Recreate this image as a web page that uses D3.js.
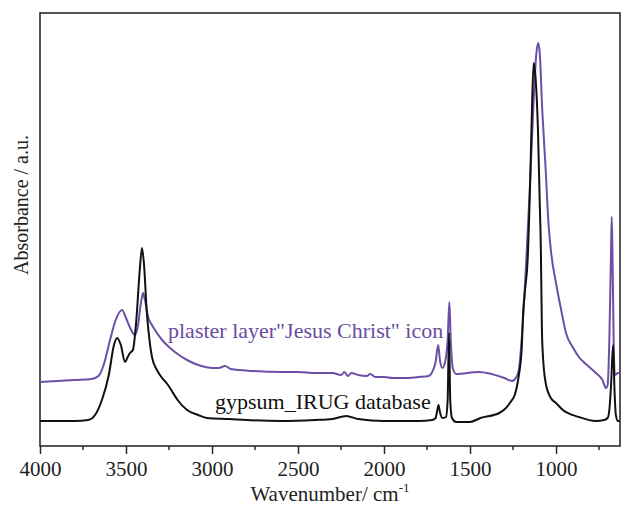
<!DOCTYPE html>
<html>
<head>
<meta charset="utf-8">
<script src="https://cdn.jsdelivr.net/npm/d3@7"></script>
<style>
  body { margin: 0; background: #fff; }
  svg text { font-family: "Liberation Serif", "Times New Roman", serif; }
</style>
</head>
<body>
<div id="chart"></div>
<script>
// wavenumber (cm-1), absorbance (a.u.)
var gypsumWn = [4000, 3800, 3720, 3680, 3640, 3600, 3570, 3552, 3530, 3506, 3490, 3477, 3460, 3440, 3420, 3407,
    3395, 3380, 3360, 3349, 3320, 3290, 3260, 3244, 3230, 3200, 3145, 3080, 3029, 2900, 2800, 2600, 2400, 2300,
    2220, 2150, 2000, 1800, 1720, 1700, 1690, 1683, 1675, 1660, 1640, 1630, 1622, 1615, 1605, 1580, 1500, 1440,
    1330, 1260, 1240, 1216, 1200, 1190, 1180, 1165, 1150, 1140, 1130, 1118, 1105, 1095, 1088, 1082, 1078, 1060,
    1030, 1000, 960, 867, 768, 720, 700, 690, 680, 668, 660, 652, 640, 630];
var gypsumAbs = [0.25, 0.25, 0.26, 0.31, 0.46, 0.71, 1.01, 1.08, 1.01, 0.84, 0.89, 0.93, 0.96, 1.26, 1.76, 1.98,
    1.81, 1.36, 1.01, 0.89, 0.76, 0.68, 0.62, 0.58, 0.54, 0.46, 0.36, 0.31, 0.28, 0.27, 0.26, 0.25, 0.26, 0.27,
    0.30, 0.27, 0.25, 0.25, 0.26, 0.28, 0.36, 0.41, 0.34, 0.28, 0.29, 0.46, 1.13, 0.46, 0.28, 0.24, 0.24, 0.28,
    0.33, 0.45, 0.51, 0.71, 0.96, 1.36, 1.56, 1.86, 2.66, 3.36, 3.83, 3.66, 3.16, 2.46, 1.96, 1.16, 0.96, 0.63,
    0.48, 0.43, 0.36, 0.29, 0.25, 0.26, 0.28, 0.36, 0.61, 1.01, 0.56, 0.31, 0.25, 0.25];

var plasterWn = [4000, 3900, 3800, 3700, 3660, 3630, 3600, 3560, 3523, 3500, 3470, 3448, 3430, 3415, 3401, 3390,
    3370, 3349, 3320, 3290, 3244, 3200, 3145, 3080, 2994, 2960, 2924, 2890, 2762, 2600, 2500, 2400, 2300, 2250,
    2230, 2210, 2190, 2150, 2100, 2080, 2050, 2000, 1950, 1900, 1800, 1740, 1720, 1700, 1685, 1675, 1660, 1645,
    1630, 1620, 1612, 1600, 1580, 1450, 1300, 1256, 1230, 1216, 1200, 1185, 1170, 1150, 1130, 1115, 1104, 1095,
    1080, 1060, 1045, 1030, 1000, 970, 942, 900, 867, 820, 768, 730, 710, 700, 690, 680, 676, 672, 665, 658, 640, 630];
var plasterAbs = [0.64, 0.65, 0.66, 0.67, 0.70, 0.81, 1.01, 1.26, 1.36, 1.28, 1.16, 1.11, 1.21, 1.41, 1.53, 1.46,
    1.28, 1.21, 1.13, 1.06, 0.98, 0.92, 0.86, 0.81, 0.78, 0.78, 0.80, 0.77, 0.75, 0.74, 0.74, 0.73, 0.73, 0.71,
    0.74, 0.70, 0.73, 0.71, 0.70, 0.72, 0.69, 0.69, 0.68, 0.68, 0.69, 0.70, 0.74, 0.84, 1.01, 0.86, 0.78, 0.84,
    1.06, 1.44, 1.06, 0.78, 0.72, 0.74, 0.68, 0.65, 0.69, 0.76, 1.06, 1.46, 1.96, 2.66, 3.46, 3.91, 4.03, 3.94,
    3.36, 2.76, 2.26, 1.96, 1.63, 1.36, 1.13, 0.98, 0.89, 0.81, 0.73, 0.66, 0.58, 0.61, 1.06, 1.96, 2.29, 1.96,
    1.06, 0.71, 0.73, 0.73];

var xTicks = [4000, 3500, 3000, 2500, 2000, 1500, 1000];
var xMinorTicks = [3750, 3250, 2750, 2250, 1750, 1250, 750];

var width = 624, height = 507;
var margin = {top: 13, right: 4, bottom: 61, left: 40};

var svg = d3.select("#chart").append("svg")
    .attr("width", width)
    .attr("height", height);

var x = d3.scaleLinear()
    .domain([4000, 628])
    .range([margin.left, width - margin.right]);

var y = d3.scaleLinear()
    .domain([0, 4.33])
    .range([height - margin.bottom, margin.top]);

var line = d3.line()
    .x(function (d) { return x(d[0]); })
    .y(function (d) { return y(d[1]); })
    .curve(d3.curveMonotoneX);

// plot frame
svg.append("rect")
    .attr("x", margin.left)
    .attr("y", margin.top)
    .attr("width", width - margin.right - margin.left)
    .attr("height", height - margin.bottom - margin.top)
    .attr("fill", "none")
    .attr("stroke", "#2b2b2b")
    .attr("stroke-width", 1.6);

// bottom axis
var xAxis = d3.axisBottom(x)
    .tickValues(xTicks)
    .tickSize(8)
    .tickPadding(7)
    .tickFormat(d3.format("d"));

var gx = svg.append("g")
    .attr("transform", "translate(0," + (height - margin.bottom) + ")")
    .call(xAxis);
gx.select(".domain").remove();
gx.selectAll("line").attr("stroke", "#2b2b2b").attr("stroke-width", 1.5);
gx.selectAll("text")
    .attr("fill", "#222")
    .style("font-size", "21px")
    .style("font-family", "'Liberation Serif', 'Times New Roman', serif");

svg.append("g")
    .selectAll("line")
    .data(xMinorTicks)
    .enter()
    .append("line")
    .attr("x1", function (d) { return x(d); })
    .attr("x2", function (d) { return x(d); })
    .attr("y1", height - margin.bottom)
    .attr("y2", height - margin.bottom + 4)
    .attr("stroke", "#2b2b2b")
    .attr("stroke-width", 1.5);

// spectra
svg.append("path")
    .datum(d3.zip(plasterWn, plasterAbs))
    .attr("fill", "none")
    .attr("stroke", "#6c4fa6")
    .attr("stroke-width", 2)
    .attr("d", line);

svg.append("path")
    .datum(d3.zip(gypsumWn, gypsumAbs))
    .attr("fill", "none")
    .attr("stroke", "#111")
    .attr("stroke-width", 2)
    .attr("d", line);

// curve labels
svg.append("text")
    .attr("x", 168)
    .attr("y", 338)
    .attr("fill", "#6a4c9e")
    .style("font-size", "22px")
    .text("plaster layer\"Jesus Christ\" icon");

svg.append("text")
    .attr("x", 215)
    .attr("y", 409)
    .attr("fill", "#111")
    .style("font-size", "22px")
    .text("gypsum_IRUG database");

// axis titles
var xTitle = svg.append("text")
    .attr("x", 330)
    .attr("y", 501)
    .attr("text-anchor", "middle")
    .attr("fill", "#222")
    .style("font-size", "21px")
    .text("Wavenumber/ cm");
xTitle.append("tspan")
    .attr("dy", -9)
    .style("font-size", "13px")
    .text("-1");

svg.append("text")
    .attr("transform", "translate(28,205) rotate(-90)")
    .attr("text-anchor", "middle")
    .attr("fill", "#222")
    .style("font-size", "20px")
    .text("Absorbance / a.u.");
</script>
</body>
</html>
